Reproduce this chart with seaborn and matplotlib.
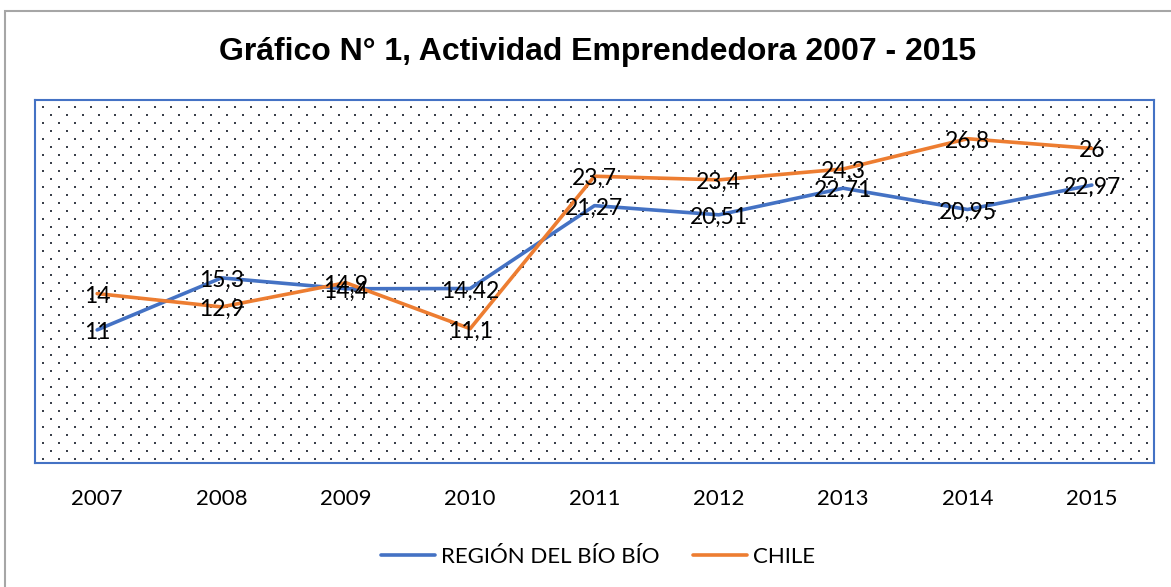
import numpy as np
import pandas as pd
import seaborn as sns
import matplotlib.pyplot as plt
from matplotlib.patches import Rectangle

# data
years = ['2007', '2008', '2009', '2010', '2011', '2012', '2013', '2014', '2015']
biobio = [11, 15.3, 14.4, 14.42, 21.27, 20.51, 22.71, 20.95, 22.97]
chile = [14, 12.9, 14.9, 11.1, 23.7, 23.4, 24.3, 26.8, 26]
series = ['REGIÓN DEL BÍO BÍO', 'CHILE']
colors = ['#4472C4', '#ED7D31']

df = pd.DataFrame({
    'year': years * 2,
    'value': biobio + chile,
    'serie': [series[0]] * len(years) + [series[1]] * len(years),
})

sns.set_theme(style='white')
plt.rcParams['font.family'] = ['Lato', 'DejaVu Sans']
plt.rcParams['text.color'] = 'black'
plt.rcParams['xtick.color'] = 'black'

fig = plt.figure(figsize=(11.71, 5.87), dpi=100)
ax = fig.add_axes([35 / 1171, (587 - 463) / 587, 1119 / 1171, 363 / 587])

# outer chart frame (only left and top edges visible)
fig.patches.append(Rectangle((5 / 1171, -0.1), 1.2, (587 - 11) / 587 + 0.1,
                             transform=fig.transFigure, fill=False,
                             edgecolor='#A6A6A6', linewidth=1.5))

# dotted plot area background
for i, yy in enumerate(np.arange(4, 363, 8)):
    off = 8 if i % 2 else 0
    xs = np.arange(8 + off, 1119, 16) / 1119
    ax.scatter(xs, np.full(len(xs), yy / 363), marker='s', s=2.2,
               color='#3A3F4A', linewidths=0, transform=ax.transAxes, zorder=0)

sns.lineplot(data=df, x='year', y='value', hue='serie', palette=colors,
             linewidth=2.6, sort=False, ax=ax, zorder=3)

for vals in (biobio, chile):
    for i, v in enumerate(vals):
        ax.text(i, v - 0.2, f'{v:g}'.replace('.', ','), ha='center', va='center',
                fontsize=16.5, color='black', zorder=5)

ax.set_xlim(-0.5, len(years) - 0.5)
ax.set_ylim(0, 30)
ax.set_yticks([])
ax.set_xlabel('')
ax.set_ylabel('')
ax.tick_params(axis='x', labelsize=16, pad=19, length=0, labelcolor='black')
for s in ax.spines.values():
    s.set_color('#4472C4')
    s.set_linewidth(1.5)

fig.text(0.51, (587 - 52) / 587, 'Gráfico N° 1, Actividad Emprendedora 2007 - 2015',
         ha='center', va='center', fontsize=23, fontweight='bold',
         family='Liberation Sans', color='black')

handles, labels = ax.get_legend_handles_labels()
leg = ax.legend(handles, labels, loc='center',
                bbox_to_anchor=(0.511, (587 - 557) / 587),
                bbox_transform=fig.transFigure, ncol=2, frameon=False, fontsize=16,
                handlelength=2.4, handletextpad=0.3, columnspacing=1.5)
for t in leg.get_texts():
    t.set_color('black')

fig.savefig('out.png', dpi=100)
